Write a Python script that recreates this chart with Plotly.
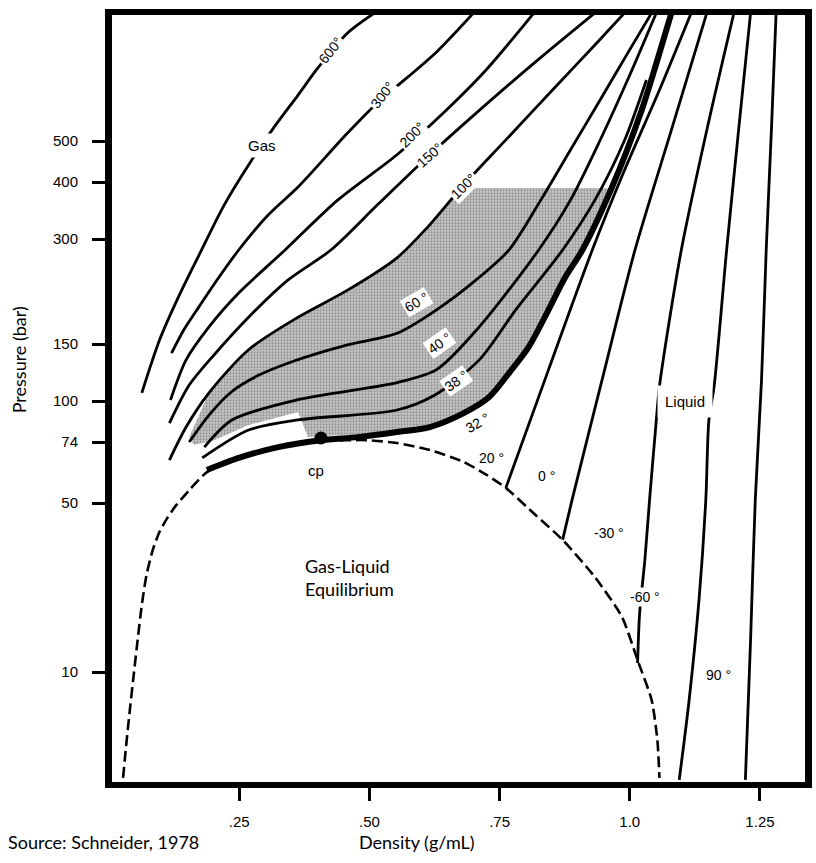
import numpy as np
import plotly.graph_objects as go

# ---------------- axis scale (hand-drawn pressure axis of the source figure) ----------------
TICK_P = [10, 50, 74, 100, 150, 300, 400, 500]
TICK_POS = [113, 282, 343, 384, 441, 546, 603, 644]      # scale position of each labelled pressure
X_TICKS = [0.25, 0.50, 0.75, 1.0, 1.25]
X_TICK_TEXT = [".25", ".50", ".75", "1.0", "1.25"]


def to_u(p):
    lp = np.log10(np.asarray(p, dtype=float))
    lt = np.log10(TICK_P)
    u = np.interp(lp, lt, TICK_POS)
    lo = (TICK_POS[1] - TICK_POS[0]) / (lt[1] - lt[0])
    hi = (TICK_POS[-1] - TICK_POS[-2]) / (lt[-1] - lt[-2])
    u = np.where(lp < lt[0], TICK_POS[0] + (lp - lt[0]) * lo, u)
    u = np.where(lp > lt[-1], TICK_POS[-1] + (lp - lt[-1]) * hi, u)
    return u

# ---------------- data: density (g/mL) and pressure (bar) ----------------
iso600_d = [0.063, 0.097, 0.135, 0.173, 0.221, 0.268, 0.316, 0.363, 0.401, 0.458, 0.510]
iso600_p = [106, 154, 207, 270, 356, 439, 537, 642, 744, 900, 1004]

iso300_d = [0.120, 0.144, 0.173, 0.211, 0.249, 0.306, 0.363, 0.458, 0.521, 0.553, 0.629, 0.700]
iso300_p = [140.5, 165, 192, 233, 279, 339, 390, 522, 625, 674, 812, 1004]

iso200_d = [0.118, 0.148, 0.192, 0.249, 0.338, 0.439, 0.553, 0.648, 0.724, 0.816]
iso200_p = [100.7, 134, 168, 210, 279, 365, 464, 592, 736, 1004]

iso150_d = [0.116, 0.154, 0.202, 0.268, 0.344, 0.426, 0.515, 0.616, 0.705, 0.819, 0.933]
iso150_p = [85.0, 112, 139, 179, 229, 279, 356, 464, 582, 769, 1004]

iso100_d = [0.116, 0.148, 0.192, 0.268, 0.363, 0.458, 0.553, 0.610, 0.681, 0.762, 0.857, 0.933, 0.990]
iso100_p = [65.9, 82.6, 106, 144, 179, 214, 265, 317, 394, 503, 671, 843, 1004]

iso60_d = [0.154, 0.192, 0.236, 0.287, 0.350, 0.458, 0.553, 0.629, 0.705, 0.768, 0.829, 0.886, 0.943, 0.994, 1.042]
iso60_p = [74, 90.2, 107, 120, 132, 149, 161, 188, 229, 279, 365, 476, 625, 799, 1004]

iso40_d = [0.183, 0.236, 0.363, 0.553, 0.629, 0.711, 0.825, 0.886, 0.943, 1.000, 1.051]
iso40_p = [71.6, 87.0, 101, 114, 125, 168, 279, 365, 502, 716, 1004]

iso38_d = [0.179, 0.268, 0.363, 0.553, 0.624, 0.711, 0.781, 0.871, 0.933, 0.990, 1.032]
iso38_p = [66.8, 80.8, 87.0, 93.6, 104, 134, 188, 279, 365, 502, 697]

crit_d = [0.188, 0.249, 0.325, 0.407, 0.477, 0.553, 0.616, 0.681, 0.730, 0.768, 0.806, 0.844, 0.876, 0.909, 0.966, 1.023, 1.053, 1.080]
crit_p = [61.8, 66.8, 71.6, 75.0, 76.7, 79.6, 82.6, 91.5, 102.9, 122, 147, 188, 233, 279, 390, 592, 777, 1004]

iso20_d = [0.762, 0.844, 0.928, 0.990, 1.057, 1.118]
iso20_p = [55.1, 125, 279, 427, 660, 1004]

iso0_d = [0.871, 0.890, 0.949, 1.010, 1.080, 1.148]
iso0_p = [35.2, 51.6, 120, 279, 531, 1004]

isom30_d = [1.015, 1.019, 1.029, 1.038, 1.051, 1.057, 1.099, 1.148, 1.200]
isom30_p = [10.9, 17.6, 29.1, 51.0, 87.0, 111, 279, 531, 1004]

isom60_d = [1.095, 1.114, 1.133, 1.146, 1.152, 1.162, 1.186, 1.209, 1.232]
isom60_p = [3.58, 7.66, 19.9, 51.0, 87.0, 111, 279, 531, 1004]

isom90_d = [1.222, 1.232, 1.241, 1.253, 1.262, 1.272, 1.281]
isom90_p = [3.58, 13.6, 51.0, 116, 279, 531, 1004]

dome_d = [0.027, 0.032, 0.040, 0.048, 0.055, 0.063, 0.072, 0.084, 0.097, 0.112, 0.129, 0.154, 0.188,
          0.249, 0.325, 0.407, 0.496, 0.553, 0.616, 0.681, 0.725, 0.762, 0.819, 0.871, 0.933, 0.985,
          1.015, 1.042, 1.053, 1.057]
dome_p = [3.65, 4.76, 6.97, 10, 13.6, 19.0, 25.2, 32.0, 38.0, 43.4, 49.0, 54.3, 61.0,
          66.8, 71.6, 74.5, 75.0, 73.5, 70.3, 65.1, 59.9, 55.1, 44.6, 35.2, 24.7, 16.9,
          11.2, 7.66, 5.24, 3.65]

shade_d = [0.154, 0.192, 0.268, 0.363, 0.458, 0.553, 0.610, 0.658, 0.658, 0.956, 0.966, 0.909, 0.876,
           0.844, 0.806, 0.768, 0.730, 0.681, 0.616, 0.553, 0.382, 0.363, 0.268, 0.202, 0.163]
shade_p = [76.7, 106, 144, 179, 214, 265, 317, 370, 388, 388, 384, 279, 233,
           188, 147, 122, 103, 91.5, 82.6, 79.6, 76.7, 92.2, 83.8, 75.0, 72.6]

cp_d = [0.407]
cp_p = [76.2]

LABEL_TEXT = ["600°", "300°", "200°", "150°", "100°", "60 °", "40 °", "38 °", "32 °",
              "20 °", "0 °", "-30 °", "-60 °", "90 °"]
LABEL_D = [0.426, 0.525, 0.582, 0.616, 0.681, 0.591, 0.635, 0.667, 0.707,
           0.734, 0.840, 0.960, 1.030, 1.171]
LABEL_P = [820, 642, 516, 464, 392, 198, 151, 115, 85.1,
           66.8, 59.5, 37.6, 20.4, 9.7]
LABEL_ANGLE = [-52, -52, -45, -42, -45, -30, -35, -35, -30, 0, 0, 0, 0, 0]

REGION_TEXT = ["Gas", "Liquid", "cp"]
REGION_D = [0.293, 1.107, 0.397]
REGION_P = [489, 99.3, 61.8]

# ---------------- figure ----------------
fig = go.Figure()

fig.add_trace(go.Scatter(x=shade_d, y=to_u(shade_p), mode="lines", fill="toself",
                         fillcolor="#bdbdbd",
                         fillpattern=dict(shape=".", bgcolor="#cacaca", fgcolor="#5e5e5e",
                                          size=3, solidity=0.45),
                         line=dict(width=0), hoverinfo="skip"))

thin = [(iso600_d, iso600_p), (iso300_d, iso300_p), (iso200_d, iso200_p), (iso150_d, iso150_p),
        (iso100_d, iso100_p), (iso60_d, iso60_p), (iso40_d, iso40_p), (iso38_d, iso38_p),
        (iso20_d, iso20_p), (iso0_d, iso0_p), (isom30_d, isom30_p), (isom60_d, isom60_p),
        (isom90_d, isom90_p)]
for d, p in thin:
    fig.add_trace(go.Scatter(x=d, y=to_u(p), mode="lines",
                             line=dict(color="black", width=2.8, shape="spline", smoothing=0.8)))

fig.add_trace(go.Scatter(x=dome_d, y=to_u(dome_p), mode="lines",
                         line=dict(color="black", width=2.6, dash="11px,5px", shape="spline", smoothing=0.6)))
fig.add_trace(go.Scatter(x=crit_d, y=to_u(crit_p), mode="lines",
                         line=dict(color="black", width=6, shape="spline", smoothing=0.8)))
fig.add_trace(go.Scatter(x=cp_d, y=to_u(cp_p), mode="markers",
                         marker=dict(color="black", size=13)))

lab_font = dict(family="Liberation Sans, Arial, sans-serif", size=14, color="black")
for t, d, p, a in zip(LABEL_TEXT, LABEL_D, LABEL_P, LABEL_ANGLE):
    fig.add_annotation(x=d, y=float(to_u(p)), text=t, textangle=a, showarrow=False,
                       font=lab_font, bgcolor="white", borderpad=1)
for t, d, p in zip(REGION_TEXT, REGION_D, REGION_P):
    fig.add_annotation(x=d, y=float(to_u(p)), text=t, showarrow=False,
                       font=dict(family="Liberation Sans, Arial, sans-serif", size=15, color="black"),
                       bgcolor="white" if t != "cp" else "rgba(0,0,0,0)", borderpad=7 if t == "Liquid" else 3)

fig.add_annotation(x=0.373, y=float(to_u(24.7)), text="Gas-Liquid<br>Equilibrium", showarrow=False,
                   xanchor="left", align="left",
                   font=dict(family="Lato, sans-serif", size=18, color="black"))

side_font = dict(family="Lato, sans-serif", size=18, color="black")
fig.add_annotation(xref="paper", yref="paper", x=-0.153, y=-0.078, text="Source: Schneider, 1978",
                   showarrow=False, xanchor="left", yanchor="middle", font=side_font)
fig.add_annotation(xref="paper", yref="paper", x=0.44, y=-0.078, text="Density (g/mL)",
                   showarrow=False, xanchor="center", yanchor="middle", font=side_font)
fig.add_annotation(xref="paper", yref="paper", x=-0.134, y=0.55, text="Pressure (bar)",
                   showarrow=False, textangle=-90, xanchor="center", yanchor="middle", font=side_font)

fig.update_layout(
    width=816, height=863, showlegend=False,
    margin=dict(l=112, r=4, t=15, b=81),
    plot_bgcolor="white", paper_bgcolor="white",
    xaxis=dict(range=[0.0057, 1.3365], tickvals=X_TICKS, ticktext=X_TICK_TEXT,
               showgrid=False, zeroline=False, showline=True, linecolor="black", linewidth=6,
               mirror=True, ticks="outside", ticklen=13, tickwidth=3, tickcolor="black",
               ticklabelstandoff=8,
               tickfont=dict(family="Liberation Sans, Arial, sans-serif", size=15, color="black")),
    yaxis=dict(range=[3, 770], tickvals=list(to_u(TICK_P)), ticktext=[str(v) for v in TICK_P],
               showgrid=False, zeroline=False, showline=True, linecolor="black", linewidth=7,
               mirror=True, ticks="outside", ticklen=13, tickwidth=3, tickcolor="black",
               ticklabelstandoff=11,
               tickfont=dict(family="Liberation Sans, Arial, sans-serif", size=15, color="black")),
)

fig.write_html("out.html", config={"displayModeBar": False},
               post_script="document.body.style.margin='0';")
